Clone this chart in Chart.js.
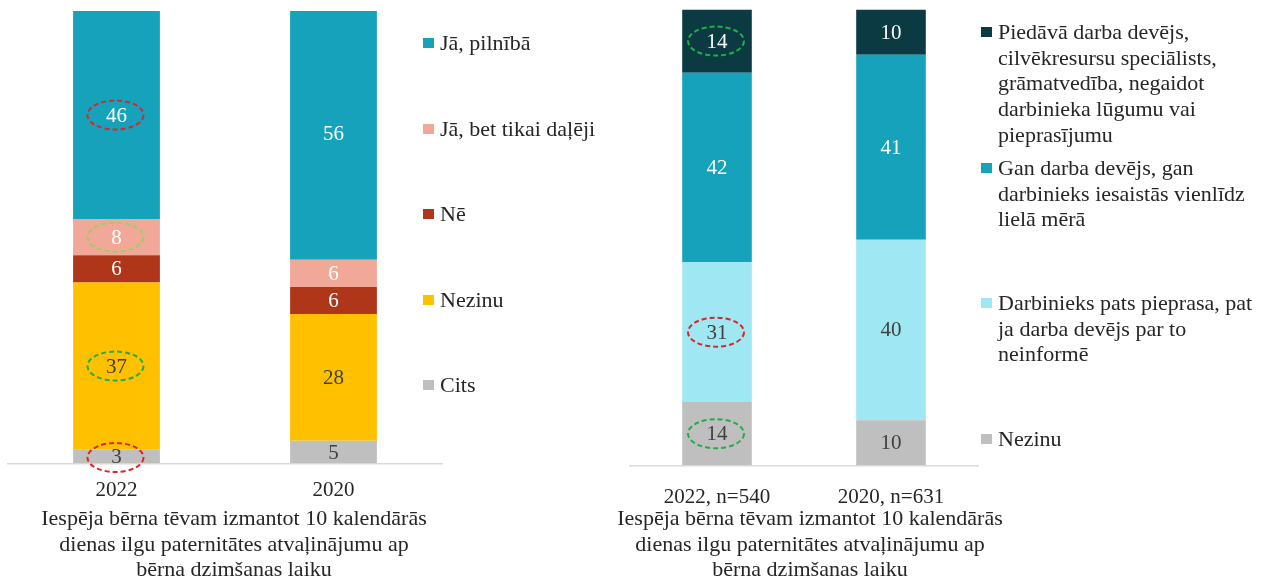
<!DOCTYPE html>
<html>
<head>
<meta charset="utf-8">
<script src="https://cdn.jsdelivr.net/npm/chart.js@4.4.1/dist/chart.umd.min.js"></script>
<style>
  body { margin: 0; background: #fff; width: 1273px; height: 581px; overflow: hidden; position: relative; }
  .box { position: absolute; top: 0; height: 590px; }
  .legend { position: absolute; top: 0; font-family: "Liberation Serif", serif; font-size: 22px; line-height: 25.6px; color: #262626; }
  .legend .item { position: absolute; left: 0; }
  .legend .sw { position: absolute; left: 0; top: 8px; width: 11px; height: 10px; }
  .legend .txt { margin-left: 17px; white-space: nowrap; }
</style>
</head>
<body>
<div class="box" style="left:0;width:468px"><canvas id="leftChart"></canvas></div>
<div class="box" style="left:610px;width:400px"><canvas id="rightChart"></canvas></div>
<div class="legend" id="leftLegend" style="left:423px;width:200px"></div>
<div class="legend" id="rightLegend" style="left:981px;width:285px"></div>
<script>
/* ---- dati ---- */
const leftYears = ['2022', '2020'];
const leftSeries = ['Cits', 'Nezinu', 'Nē', 'Jā, bet tikai daļēji', 'Jā, pilnībā'];
const leftCits = [3, 5];
const leftNezinu = [37, 28];
const leftNe = [6, 6];
const leftDaleji = [8, 6];
const leftPilniba = [46, 56];

const rightYears = ['2022, n=540', '2020, n=631'];
const rightSeries = [
  'Nezinu',
  'Darbinieks pats pieprasa, pat ja darba devējs par to neinformē',
  'Gan darba devējs, gan darbinieks iesaistās vienlīdz lielā mērā',
  'Piedāvā darba devējs, cilvēkresursu speciālists, grāmatvedība, negaidot darbinieka lūgumu vai pieprasījumu',
];
const rightNezinu = [14, 10];
const rightPats = [31, 40];
const rightAbi = [42, 41];
const rightDevejs = [14, 10];

const titleLines = [
  'Iespēja bērna tēvam izmantot 10 kalendārās',
  'dienas ilgu paternitātes atvaļinājumu ap',
  'bērna dzimšanas laiku',
];

// legendas rindas (kā oriģinālā, ar pārnesumiem)
const rightLegendLines = [
  ['Piedāvā darba devējs,', 'cilvēkresursu speciālists,', 'grāmatvedība, negaidot', 'darbinieka lūgumu vai', 'pieprasījumu'],
  ['Gan darba devējs, gan', 'darbinieks iesaistās vienlīdz', 'lielā mērā'],
  ['Darbinieks pats pieprasa, pat', 'ja darba devējs par to', 'neinformē'],
  ['Nezinu'],
];

const COLORS = {
  teal: '#16a2ba', pink: '#f1a899', red: '#b0361a', yellow: '#ffc000', gray: '#bfbfbf',
  dark: '#0b3a43', cyan: '#9ee7f3',
};
const SERIF = '"Liberation Serif", "Times New Roman", serif';

/* ---- datu etiķetes + apļi ---- */
const segLabels = {
  id: 'segLabels',
  afterDatasetsDraw(chart, args, opts) {
    const ctx = chart.ctx;
    ctx.save();
    ctx.font = '21px ' + SERIF;
    ctx.textAlign = 'center';
    ctx.textBaseline = 'middle';
    chart.data.datasets.forEach((ds, di) => {
      chart.getDatasetMeta(di).data.forEach((bar, i) => {
        const p = bar.getProps(['x', 'y', 'base'], true);
        ctx.fillStyle = ds.labelColor;
        ctx.fillText(String(ds.data[i]), p.x, (p.y + p.base) / 2 + 1);
      });
    });
    (opts.rings || []).forEach((r) => {
      const bar = chart.getDatasetMeta(r.series).data[r.index];
      const p = bar.getProps(['x', 'y', 'base'], true);
      ctx.beginPath();
      ctx.setLineDash([5, 3]);
      ctx.lineWidth = 2;
      ctx.strokeStyle = r.color;
      ctx.ellipse(p.x - 1, (p.y + p.base) / 2 + (r.dy || 0), 28, 14.5, 0, 0, Math.PI * 2);
      ctx.stroke();
    });
    ctx.restore();
  },
};

function ds(label, data, color, labelColor) {
  return {
    label, data, backgroundColor: color, labelColor,
    borderWidth: 0, barPercentage: 0.4, categoryPercentage: 1,
  };
}

// tukša ass, kas tikai aizņem vietu (lai virsraksts būtu nobīdīts kā oriģinālā)
function spacer(position, width) {
  return {
    type: 'linear',
    position,
    display: true,
    grid: { display: false },
    border: { display: false },
    ticks: { display: false },
    afterFit: (s) => { s.width = width; },
  };
}

function stackedChart(canvasEl, cfg) {
  return new Chart(canvasEl, {
    type: 'bar',
    data: { labels: cfg.labels, datasets: cfg.datasets },
    plugins: [segLabels],
    options: {
      responsive: true,
      maintainAspectRatio: false,
      animation: false,
      layout: { padding: cfg.padding },
      plugins: {
        legend: { display: false },
        tooltip: { enabled: false },
        title: {
          display: true,
          position: 'bottom',
          text: titleLines,
          color: '#262626',
          font: { family: SERIF, size: 22, weight: 'normal', lineHeight: 25.5 / 22 },
          padding: cfg.titlePadding,
        },
        segLabels: { rings: cfg.rings },
      },
      scales: {
        x: {
          stacked: true,
          grid: { display: false, drawTicks: false },
          border: { display: true, color: '#d9d9d9', width: 1.5 },
          ticks: { color: '#262626', padding: cfg.tickPad, font: { family: SERIF, size: 21 } },
        },
        y: {
          stacked: true,
          position: 'right',
          min: 0,
          max: cfg.max,
          grid: { display: false },
          border: { display: false },
          ticks: { display: false },
          afterFit: (s) => { s.width = cfg.rightGap; },
        },
        yLeft: spacer('left', cfg.leftGap),
      },
    },
  });
}

stackedChart(document.getElementById('leftChart'), {
  labels: leftYears,
  max: 100,
  padding: { left: 0, right: 0, top: 11, bottom: 0 },
  leftGap: 8,
  rightGap: 26,
  tickPad: 15,
  titlePadding: { top: -12, bottom: 7 },
  datasets: [
    ds(leftSeries[0], leftCits, COLORS.gray, '#404040'),
    ds(leftSeries[1], leftNezinu, COLORS.yellow, '#404040'),
    ds(leftSeries[2], leftNe, COLORS.red, '#ffffff'),
    ds(leftSeries[3], leftDaleji, COLORS.pink, '#ffffff'),
    ds(leftSeries[4], leftPilniba, COLORS.teal, '#ffffff'),
  ],
  rings: [
    { series: 4, index: 0, color: '#e02424' },
    { series: 3, index: 0, color: '#9bcf63' },
    { series: 1, index: 0, color: '#1fae48' },
    { series: 0, index: 0, color: '#e02424', dy: 1 },
  ],
});

stackedChart(document.getElementById('rightChart'), {
  labels: rightYears,
  max: 101,
  padding: { left: 0, right: 0, top: 9.5, bottom: 0 },
  leftGap: 20,
  rightGap: 32,
  tickPad: 20,
  titlePadding: { top: -24, bottom: 7 },
  datasets: [
    ds(rightSeries[0], rightNezinu, COLORS.gray, '#404040'),
    ds(rightSeries[1], rightPats, COLORS.cyan, '#404040'),
    ds(rightSeries[2], rightAbi, COLORS.teal, '#ffffff'),
    ds(rightSeries[3], rightDevejs, COLORS.dark, '#ffffff'),
  ],
  rings: [
    { series: 3, index: 0, color: '#1fae48' },
    { series: 1, index: 0, color: '#e02424' },
    { series: 0, index: 0, color: '#1fae48' },
  ],
});

/* ---- legendas ---- */
function buildLegend(el, items, tops) {
  items.forEach((it, i) => {
    const div = document.createElement('div');
    div.className = 'item';
    div.style.top = (tops[i] - 12.8) + 'px';
    div.innerHTML = '<span class="sw" style="background:' + it.color + '"></span>' +
      '<div class="txt">' + it.lines.join('<br>') + '</div>';
    el.appendChild(div);
  });
}

buildLegend(document.getElementById('leftLegend'), [
  { color: COLORS.teal, lines: [leftSeries[4]] },
  { color: COLORS.pink, lines: [leftSeries[3]] },
  { color: COLORS.red, lines: [leftSeries[2]] },
  { color: COLORS.yellow, lines: [leftSeries[1]] },
  { color: COLORS.gray, lines: [leftSeries[0]] },
], [43, 129, 214, 300, 385]);

buildLegend(document.getElementById('rightLegend'), [
  { color: COLORS.dark, lines: rightLegendLines[0] },
  { color: COLORS.teal, lines: rightLegendLines[1] },
  { color: COLORS.cyan, lines: rightLegendLines[2] },
  { color: COLORS.gray, lines: rightLegendLines[3] },
], [32, 168, 303, 439]);
</script>
</body>
</html>
